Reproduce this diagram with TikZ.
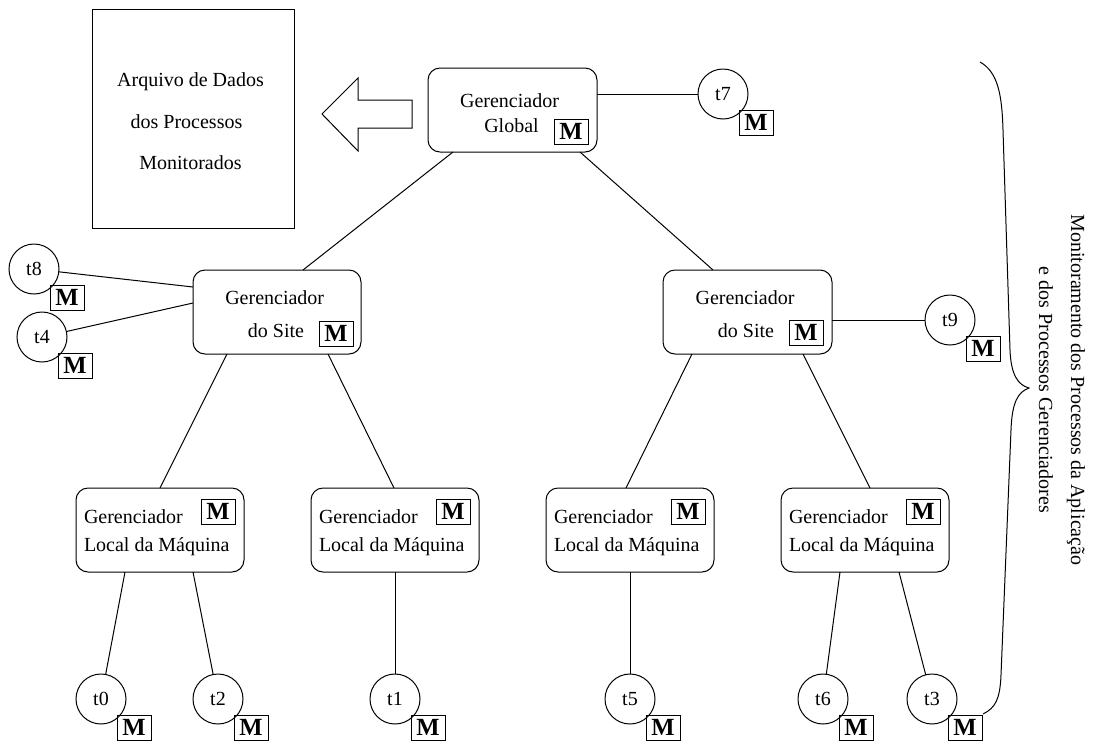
\documentclass[tikz,border=0pt]{standalone}
\usepackage{fontspec}
\setmainfont{Liberation Serif}
\usetikzlibrary{calc}
\begin{document}
\begin{tikzpicture}[x=0.75pt,y=-0.75pt,
  line width=0.75pt,
  every node/.style={inner sep=0pt, outer sep=0pt},
  txt/.style={font=\fontsize{15}{18}\selectfont, anchor=base},
  txtl/.style={font=\fontsize{15}{18}\selectfont, anchor=base west},
  mgr/.style={draw, rounded corners=9pt, minimum height=63pt, minimum width=126pt},
  proc/.style={draw, circle, minimum size=37.5pt, font=\fontsize{15}{18}\selectfont},
  mon/.style={draw, minimum width=25.5pt, minimum height=18.75pt,
    font=\fontsize{18.5}{20}\selectfont\bfseries},
  link/.style={draw}
]
\useasboundingbox (0,0) rectangle (1093,740);

% data file
\node[draw, minimum width=151.5pt, minimum height=164.25pt] (arq) at (193,118.5) {};
\node[txt] (arq1) at (190.5,86) {Arquivo de Dados};
\node[txt] (arq2) at (186.5,128) {dos Processos};
\node[txt] (arq3) at (190.5,169) {Monitorados};

% block arrow towards the data file
\draw (412,100) -- (358,100) -- (358,78) -- (322,114) -- (358,151)
      -- (358,128) -- (412,128) -- cycle;

% global manager
\node[mgr, minimum width=126.75pt] (glob) at (512.5,110) {};
\node[txt] (globA) at (509.5,107) {Gerenciador};
\node[txt] (globB) at (511.5,132) {Global};
\node[mon, anchor=south east] (globM) at ($(glob.south east)+(-9,-8)$) {M};

% site managers
\node[mgr] (siteL) at (277,312) {};
\node[txt] (siteLA) at (274.7,304) {Gerenciador};
\node[txt] (siteLB) at (276,337) {do Site};
\node[mon, anchor=south east] (siteLM) at ($(siteL.south east)+(-8,-8)$) {M};

\node[mgr, minimum width=126.75pt] (siteR) at (747.5,312) {};
\node[txt] (siteRA) at (745,304) {Gerenciador};
\node[txt] (siteRB) at (746,337) {do Site};
\node[mon, anchor=south east] (siteRM) at ($(siteR.south east)+(-9,-9)$) {M};

% local machine managers
\foreach \n/\x in {loc1/160, loc2/395, loc3/630, loc4/865}{
  \node[mgr] (\n) at (\x,530) {};
  \node[txtl] (\n A) at ($(\n.west)+(8,-7)$) {Gerenciador};
  \node[txtl] (\n B) at ($(\n.west)+(8,21)$) {Local da Máquina};
  \node[mon, anchor=north east] (\n M) at ($(\n.north east)+(-9,11)$) {M};
}

% processes
\foreach \n/\x/\y in {t0/101/699, t2/218/699, t1/395/699, t5/630/699,
                      t6/823/699, t3/932/699, t7/723/94, t9/950/320,
                      t8/34/269, t4/42/337}{
  \node[proc] (\n) at (\x,\y) {\n};
  \node[mon, anchor=north west] (\n M) at ($(\n.center)+(16,16)$) {M};
}

% connections
\draw[link] ($(glob.south)+(-59.5,0)$) -- ($(siteL.north)+(26,0)$);
\draw[link] ($(glob.south)+(67.5,0)$) -- ($(siteR.north)+(-34.5,0)$);
\draw[link] (t7.west -| glob.east) -- (t7.west);
\draw[link] (t9.west -| siteR.east) -- (t9.west);
\draw[link] (t8) -- ($(siteL.west)+(0,-25)$);
\draw[link] (t4) -- ($(siteL.west)+(0,-9)$);
\draw[link] ($(siteL.south)+(-50,0)$) -- (loc1.north);
\draw[link] ($(siteL.south)+(51,0)$) -- ($(loc2.north)+(-1,0)$);
\draw[link] ($(siteR.south)+(-55.5,0)$) -- ($(loc3.north)+(-4,0)$);
\draw[link] ($(siteR.south)+(55.5,0)$) -- ($(loc4.north)+(5,0)$);
\draw[link] ($(loc1.south)+(-35,0)$) -- (t0);
\draw[link] ($(loc1.south)+(33,0)$) -- (t2);
\draw[link] (loc2.south) -- (t1);
\draw[link] (loc3.south) -- (t5);
\draw[link] ($(loc4.south)+(-25,0)$) -- (t6);
\draw[link] ($(loc4.south)+(34,0)$) -- (t3);

% brace around the monitored processes
\draw (980,62) .. controls (998,72) and (1002,95) .. (1003,130)
      -- (1010,350) .. controls (1011,375) and (1018,385) .. (1029,388)
      .. controls (1018,392) and (1012,402) .. (1011,430)
      -- (1001,675) .. controls (1000,700) and (995,708) .. (983,714);
\node[txt, rotate=-90] (brA) at (1071,390) {Monitoramento dos Processos da Aplicação};
\node[txt, rotate=-90] (brB) at (1039,390) {e dos Processos Gerenciadores};
\end{tikzpicture}
\end{document}
